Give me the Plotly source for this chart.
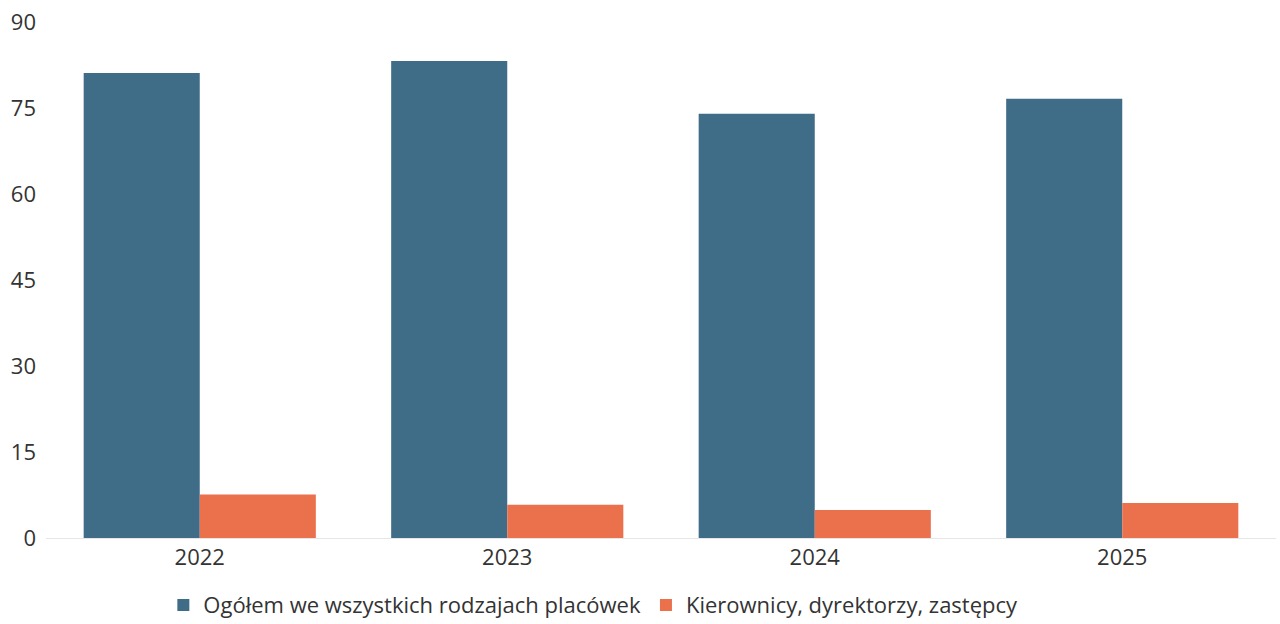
import plotly.graph_objects as go

years = ['2022', '2023', '2024', '2025']
ogolem = [81.1, 83.2, 74.0, 76.6]
kierownicy = [7.6, 5.8, 4.9, 6.1]
y_ticks = [0, 15, 30, 45, 60, 75, 90]

fig = go.Figure()

fig.add_trace(go.Bar(
    x=years, y=ogolem,
    name='Ogółem we wszystkich rodzajach placówek',
    marker=dict(color='#3f6c87', line=dict(width=0)),
))
fig.add_trace(go.Bar(
    x=years, y=kierownicy,
    name='Kierownicy, dyrektorzy, zastępcy',
    marker=dict(color='#ea714c', line=dict(width=0)),
))

fig.update_layout(
    width=1280, height=624,
    margin=dict(l=46, r=4, t=22, b=86, autoexpand=False),
    paper_bgcolor='white',
    plot_bgcolor='white',
    barmode='group',
    bargap=0.245,
    bargroupgap=0,
    font=dict(family='Open Sans', size=22, color='#333333'),
    showlegend=True,
    legend=dict(
        orientation='h',
        x=0.445, xanchor='center',
        y=-0.13, yanchor='middle',
        font=dict(size=22, color='#333333'),
        itemwidth=30,
        tracegroupgap=0,
    ),
)

fig.update_xaxes(
    showgrid=False, automargin=False,
    showline=True, linecolor='#e6e6e6', linewidth=1,
    ticks='', tickfont=dict(size=22, color='#333333'),
)
fig.update_yaxes(
    range=[0, 90],
    tickvals=y_ticks,
    showgrid=False, zeroline=False, automargin=False,
    ticks='', ticklabelstandoff=9,
    tickfont=dict(size=22, color='#333333'),
)

# drop the default 8px page margin so the figure fills the window
fig.write_html('out.html', config={'displayModeBar': False},
               post_script="document.body.style.margin='0';")
